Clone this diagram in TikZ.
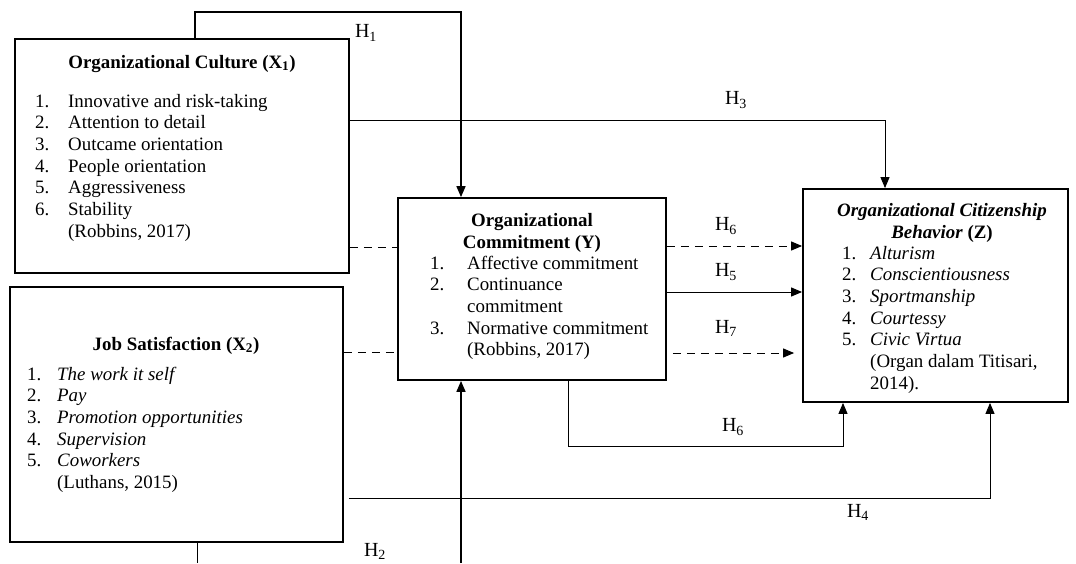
\documentclass[tikz,border=0pt]{standalone}
\usepackage{fontspec}
\setmainfont{Liberation Serif}
\usetikzlibrary{arrows.meta}

\tikzset{
  box/.style={draw,line width=1.8pt,inner sep=0pt},
  conn/.style={line width=1pt},
  heavy/.style={line width=1.6pt},
  tip/.style={-{Triangle[length=11pt,width=9pt]}},
  dashline/.style={dash pattern=on 8pt off 6pt},
  hlabel/.style={inner sep=0pt,font=\fontsize{20}{22}\selectfont},
  title/.style={inner sep=0pt,align=center,font=\fontsize{18.9}{21.7}\selectfont\bfseries},
  items/.style={inner sep=0pt,anchor=base west,font=\fontsize{18.9}{21.7}\selectfont}
}

\begin{document}
\begin{tikzpicture}[x=1pt,y=-1pt]

	\useasboundingbox (0,0) rectangle (1076,563);

	\node[box,minimum width=334,minimum height=234] (cult) at (182,156) {};
	\node[box,minimum width=333,minimum height=255] (sat) at (176.5,414.5) {};
	\node[box,minimum width=268,minimum height=182] (com) at (532,289) {};
	\node[box,minimum width=265,minimum height=213] (ocb) at (935.5,295.5) {};

	\node[title,anchor=base] (cultT) at (182,68) {Organizational Culture (X\textsubscript{1})};
	\node[items] (cultL) at (35,107) {\begin{tabular}[t]{@{}p{33pt}@{}l@{}}
		1. & Innovative and risk-taking\\
		2. & Attention to detail\\
		3. & Outcame orientation\\
		4. & People orientation\\
		5. & Aggressiveness\\
		6. & Stability\\
		   & (Robbins, 2017)
	\end{tabular}};

	\node[title,anchor=base] (satT) at (176,350) {Job Satisfaction (X\textsubscript{2})};
	\node[items] (satL) at (27,380) {\begin{tabular}[t]{@{}p{30pt}@{}l@{}}
		1. & \textit{The work it self}\\
		2. & \textit{Pay}\\
		3. & \textit{Promotion opportunities}\\
		4. & \textit{Supervision}\\
		5. & \textit{Coworkers}\\
		   & (Luthans, 2015)
	\end{tabular}};

	\node[title,anchor=base] (comT) at (532,248) {Organizational\\Commitment (Y)};
	\node[items] (comL) at (430,269) {\begin{tabular}[t]{@{}p{37pt}@{}l@{}}
		1. & Affective commitment\\
		2. & Continuance\\
		   & commitment\\
		3. & Normative commitment\\
		   & (Robbins, 2017)
	\end{tabular}};

	\node[title,anchor=base] (ocbT) at (942,238) {\textit{Organizational Citizenship}\\\textit{Behavior} (Z)};
	\node[items] (ocbL) at (842,259) {\begin{tabular}[t]{@{}p{28pt}@{}l@{}}
		1. & \textit{Alturism}\\
		2. & \textit{Conscientiousness}\\
		3. & \textit{Sportmanship}\\
		4. & \textit{Courtessy}\\
		5. & \textit{Civic Virtua}\\
		   & (Organ dalam Titisari,\\
		   & 2014).
	\end{tabular}};

	\coordinate (h1a) at (195,12);
	\coordinate (h1b) at (461,12);
	\coordinate (h3) at (885,120);
	\coordinate (d1) at (0,247);
	\coordinate (d2) at (0,352);
	\coordinate (h6) at (0,246);
	\coordinate (h5) at (0,292);
	\coordinate (h7) at (0,353);
	\coordinate (h6a) at (568,446);
	\coordinate (h6b) at (843,446);
	\coordinate (h4) at (990,498);
	\coordinate (h2a) at (197,563);
	\coordinate (h2b) at (461,563);

	\draw[heavy,tip] (cult.north -| h1a) -- (h1a) -- (h1b) -- (h1b |- com.north);
	\draw[conn,tip] (cult.east |- h3) -- (h3) -- (h3 |- ocb.north);
	\draw[conn,dashline] (cult.east |- d1) -- (com.west |- d1);
	\draw[conn,dashline] (sat.east |- d2) -- (com.west |- d2);
	\draw[conn,dashline,tip] (com.east |- h6) -- (ocb.west |- h6);
	\draw[conn,tip] (com.east |- h5) -- (ocb.west |- h5);
	\draw[conn,dashline,tip,shorten <=6pt,shorten >=8pt] (com.east |- h7) -- (ocb.west |- h7);
	\draw[conn,tip] (com.south -| h6a) -- (h6a) -- (h6b) -- (h6b |- ocb.south);
	\draw[conn,tip,shorten <=5pt] (sat.east |- h4) -- (h4) -- (h4 |- ocb.south);
	\draw[conn] (sat.south -| h2a) -- (h2a);
	\draw[heavy,tip] (h2b) -- (h2b |- com.south);

	\node[hlabel] (l1) at (366,33) {H\textsubscript{1}};
	\node[hlabel] (l3) at (736,100) {H\textsubscript{3}};
	\node[hlabel] (l6) at (726,226) {H\textsubscript{6}};
	\node[hlabel] (l5) at (726,272) {H\textsubscript{5}};
	\node[hlabel] (l7) at (726,328) {H\textsubscript{7}};
	\node[hlabel] (l6b) at (733,427) {H\textsubscript{6}};
	\node[hlabel] (l4) at (858,512) {H\textsubscript{4}};
	\node[hlabel] (l2) at (375,551) {H\textsubscript{2}};

\end{tikzpicture}
\end{document}
